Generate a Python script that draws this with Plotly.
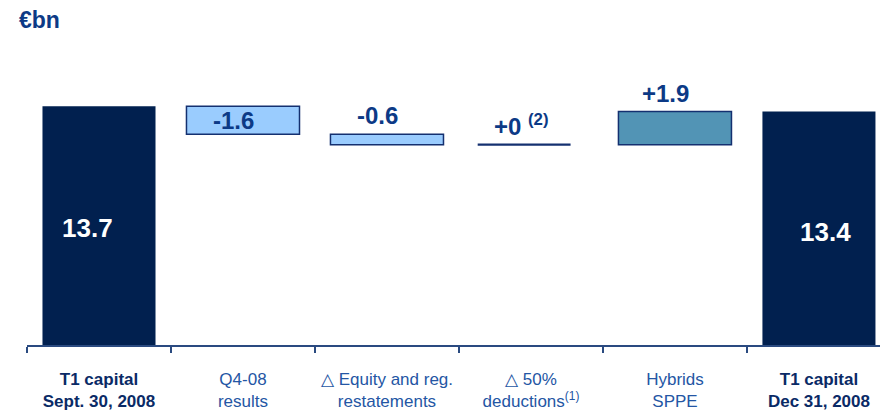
import plotly.graph_objects as go

# Tier 1 capital bridge, EUR bn
categories = [
    "<b>T1 capital</b><br><b>Sept. 30, 2008</b>",
    "Q4-08<br>results",
    "△ Equity and reg.<br>restatements",
    "△ 50%<br>deductions<sup>(1)</sup>",
    "Hybrids<br>SPPE",
    "<b>T1 capital</b><br><b>Dec 31, 2008</b>",
]
kinds = ["total", "delta", "delta", "delta", "delta", "total"]
values = [13.7, -1.6, -0.6, 0.0, 1.9, 13.4]
value_labels = ["13.7", "-1.6", "-0.6", "+0 <sup>(2)</sup>", "+1.9", "13.4"]
label_colors = ["#0A2A66", "#2456A4", "#2456A4", "#2456A4", "#2456A4", "#0A2A66"]

NAVY = "#01204F"
LIGHT = "#9ACCFE"
TEAL = "#5294B5"
EDGE = "#143070"
TEXT = "#0C3A86"

# running bases for the bridge
tops, bottoms = [], []
level = 0.0
for k, v in zip(kinds, values):
    if k == "total":
        b, t = 0.0, v
        level = v
    else:
        start = level
        level = level + v
        b, t = min(start, level), max(start, level)
    tops.append(t)
    bottoms.append(b)

fig = go.Figure()

bar_idx = [i for i, v in enumerate(values) if not (kinds[i] == "delta" and v == 0)]
fill = []
lines = []
for i in bar_idx:
    if kinds[i] == "total":
        fill.append(NAVY)
        lines.append(0)
    elif values[i] < 0:
        fill.append(LIGHT)
        lines.append(1.5)
    else:
        fill.append(TEAL)
        lines.append(1.5)

fig.add_trace(go.Bar(
    x=[categories[i] for i in bar_idx],
    y=[tops[i] - bottoms[i] for i in bar_idx],
    base=[bottoms[i] for i in bar_idx],
    width=0.785,
    marker=dict(color=fill, line=dict(color=EDGE, width=lines)),
    hoverinfo="skip",
    showlegend=False,
))

# zero-change step drawn as a flat line at the running level
for i, v in enumerate(values):
    if kinds[i] == "delta" and v == 0:
        fig.add_trace(go.Scatter(
            x=[i - 0.37, i + 0.275],
            y=[tops[i], tops[i]],
            mode="lines",
            line=dict(color=EDGE, width=2.4),
            xaxis="x2",
            hoverinfo="skip",
            showlegend=False,
        ))

# value labels
for i, v in enumerate(values):
    if kinds[i] == "total":
        fig.add_annotation(x=categories[i], y=tops[i] / 2, text=f"<b>{value_labels[i]}</b>",
                           showarrow=False, font=dict(size=26, color="white", family="Arial"),
                           xshift=-12 if i == 0 else 7, yshift=-2 if i == 0 else -4)
    elif v < 0 and (tops[i] - bottoms[i]) > 1.0:
        fig.add_annotation(x=categories[i], y=(tops[i] + bottoms[i]) / 2, text=f"<b>{value_labels[i]}</b>",
                           showarrow=False, font=dict(size=24, color=TEXT, family="Arial"),
                           xshift=-9)
    else:
        fig.add_annotation(x=categories[i], y=tops[i], text=f"<b>{value_labels[i]}</b>",
                           showarrow=False, yanchor="bottom", yshift=3,
                           font=dict(size=24, color=TEXT, family="Arial"),
                           xshift=-9)

ticktext = [f'<span style="color:{c}">{t}</span>' for t, c in zip(categories, label_colors)]

XR = [-0.5, 5.424]
fig.update_layout(
    width=880, height=410,
    margin=dict(l=27, r=0, t=55, b=65),
    paper_bgcolor="white", plot_bgcolor="white",
    font=dict(family="Arial", color=TEXT),
    xaxis=dict(
        type="category", categoryorder="array", categoryarray=categories,
        range=XR, tickvals=categories, ticktext=ticktext,
        tickson="boundaries", ticks="outside", ticklen=6, tickwidth=1.5, tickcolor="#2A4A80",
        showline=True, linecolor="#2A4A80", linewidth=1.8,
        showgrid=False, zeroline=False, ticklabelstandoff=18,
        tickfont=dict(size=17, family="Arial"),
    ),
    xaxis2=dict(overlaying="x", range=XR, visible=False),
    yaxis=dict(range=[0, 290 / 17.42], visible=False, fixedrange=True),
    annotations=list(fig.layout.annotations) + [
        dict(text="<b>€bn</b>", xref="paper", yref="paper", x=-10 / 853, y=1.0,
             xanchor="left", yanchor="bottom", yshift=20, showarrow=False,
             font=dict(size=23, color="#0D3A86", family="Arial")),
    ],
)

fig.write_html("out.html")
